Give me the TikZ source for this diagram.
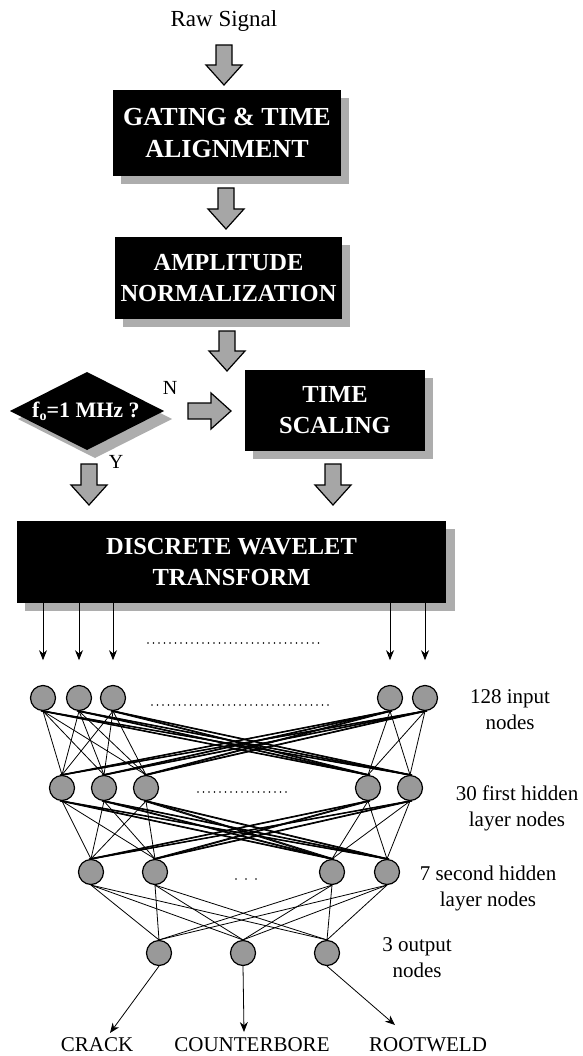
\documentclass[tikz,border=0pt]{standalone}
\usepackage{fontspec}
\setmainfont{Liberation Serif}
\usetikzlibrary{arrows.meta}
\newcommand\blkdn[3]{\draw[blk] (#1-8,#2) -- (#1+8,#2) -- (#1+8,#3-20) -- (#1+18,#3-20) -- (#1,#3) -- (#1-18,#3-20) -- (#1-8,#3-20) -- cycle;}
\newcommand\blkrt[3]{\draw[blk] (#2,#1-8) -- (#2,#1+8) -- (#3-20,#1+8) -- (#3-20,#1+18) -- (#3,#1) -- (#3-20,#1-18) -- (#3-20,#1-8) -- cycle;}
\begin{document}
\begin{tikzpicture}[x=1pt,y=-1pt,
  box/.style={fill=black, text=white, font=\fontsize{24.5}{31}\selectfont\bfseries, align=center, inner sep=0pt},
  shadowc/.style={fill=black!32},
  blk/.style={fill=black!35, draw=black, line width=1.2pt, line join=miter},
  neuron/.style={circle, fill=black!40, draw=black, line width=1.2pt, minimum size=25pt, inner sep=0pt},
  lbl/.style={font=\fontsize{21}{26}\selectfont, align=center, inner sep=0pt},
  edge/.style={line width=0.8pt},
  sig/.style={line width=0.8pt, -{Stealth[length=10pt,width=8pt]}},
  dotrow/.style={line width=1.6pt, line cap=round, dash pattern=on 0pt off 5.5pt}
]
\useasboundingbox (0,0) rectangle (582,1056);

% --- flow chart ---
\node[lbl, font=\fontsize{23}{26}\selectfont] (raw) at (224,21) {Raw Signal};
\blkdn{224}{45}{85}

\fill[shadowc] (121,98) rectangle (349,184);
\node[box, minimum width=228pt, minimum height=86pt, font=\fontsize{26}{32}\selectfont\bfseries] (b1) at (227,133) {GATING \& TIME\\ALIGNMENT};
\blkdn{226}{188}{229}

\fill[shadowc] (123,245) rectangle (350,327);
\node[box, minimum width=227pt, minimum height=82pt] (b2) at (228.5,278) {AMPLITUDE\\NORMALIZATION};
\blkdn{227}{331}{371}

% decision diamond
\fill[shadowc] (18,419) -- (95,380) -- (172,419) -- (95,458) -- cycle;
\fill[black] (10,411) -- (87,372) -- (164,411) -- (87,450) -- cycle;
\node[box, font=\fontsize{22}{26}\selectfont\bfseries] (dia) at (86,411) {f\raisebox{-3pt}{\fontsize{14}{14}\selectfont o}=1 MHz ?};
\node[lbl, font=\fontsize{20}{24}\selectfont] (nlab) at (170,388) {N};
\node[lbl, font=\fontsize{20}{24}\selectfont] (ylab) at (116,462) {Y};
\blkrt{411}{188}{231}

\fill[shadowc] (253,378) rectangle (433,459);
\node[box, minimum width=180pt, minimum height=81pt] (ts) at (335,410.5) {TIME\\SCALING};

\blkdn{89}{464}{505}
\blkdn{333}{464}{505}

\fill[shadowc] (25,529) rectangle (455,611);
\node[box, minimum width=429pt, minimum height=82pt] (dwt) at (231.5,562) {DISCRETE WAVELET\\TRANSFORM};

% --- network ---
\node[neuron] (i1) at (43,698) {};
\node[neuron] (i2) at (79,698) {};
\node[neuron] (i3) at (113,698) {};
\node[neuron] (i4) at (390,698) {};
\node[neuron] (i5) at (425,698) {};

\node[neuron] (h1) at (62,788) {};
\node[neuron] (h2) at (104,788) {};
\node[neuron] (h3) at (146,788) {};
\node[neuron] (h4) at (368,788) {};
\node[neuron] (h5) at (410,788) {};

\node[neuron] (s1) at (91,872) {};
\node[neuron] (s2) at (155,872) {};
\node[neuron] (s3) at (332,872) {};
\node[neuron] (s4) at (387,872) {};

\node[neuron] (o1) at (159,953) {};
\node[neuron] (o2) at (243,953) {};
\node[neuron] (o3) at (327,953) {};

\foreach \a in {1,...,5} \foreach \b in {1,...,5} \draw[edge] (i\a.south) -- (h\b.north);
\foreach \a in {1,...,5} \foreach \b in {1,...,4} \draw[edge] (h\a.south) -- (s\b.north);
\foreach \a in {1,...,4} \foreach \b in {1,...,3} \draw[edge] (s\a.south) -- (o\b.north);

% bundled long connections
\foreach \a/\b in {1/4,1/5,2/4,2/5,3/4,3/5,4/1,4/2,4/3,5/1,5/2,5/3}
  \foreach \d in {-2,2}
    \draw[edge] ([xshift=\d pt]i\a.south) -- ([xshift=\d pt]h\b.north);
\foreach \a/\b in {1/3,1/4,2/3,2/4,3/3,3/4,4/1,4/2,5/1,5/2}
  \foreach \d in {-2,2}
    \draw[edge] ([xshift=\d pt]h\a.south) -- ([xshift=\d pt]s\b.north);

% signal arrows from the DWT
\foreach \n in {1,2,3,4,5} \draw[sig] (i\n |- dwt.south) -- ++(0,57);

% dotted rows
\draw[dotrow] (148,643) -- (322,643);
\draw[dotrow] (152,705) -- (331,705);
\draw[dotrow] (198,792) -- (290,792);
\draw[dotrow, dash pattern=on 0pt off 10pt] (236,879) -- (257,879);

% layer labels
\node[lbl] (l1) at (510,710) {128 input\\nodes};
\node[lbl] (l2) at (517,808) {30 first hidden\\layer nodes};
\node[lbl] (l3) at (488,888) {7 second hidden\\layer nodes};
\node[lbl] (l4) at (417,958) {3 output\\nodes};

% outputs
\node[lbl] (crack) at (97,1045) {CRACK};
\node[lbl] (cbore) at (252,1045) {COUNTERBORE};
\node[lbl] (rweld) at (428,1045) {ROOTWELD};
\coordinate (t1) at (110,1033);
\coordinate (t2) at (244,1032);
\coordinate (t3) at (395,1025);
\draw[sig] (o1.south) -- (t1);
\draw[sig] (o2.south) -- (t2);
\draw[sig] (o3.south) -- (t3);
\end{tikzpicture}
\end{document}
